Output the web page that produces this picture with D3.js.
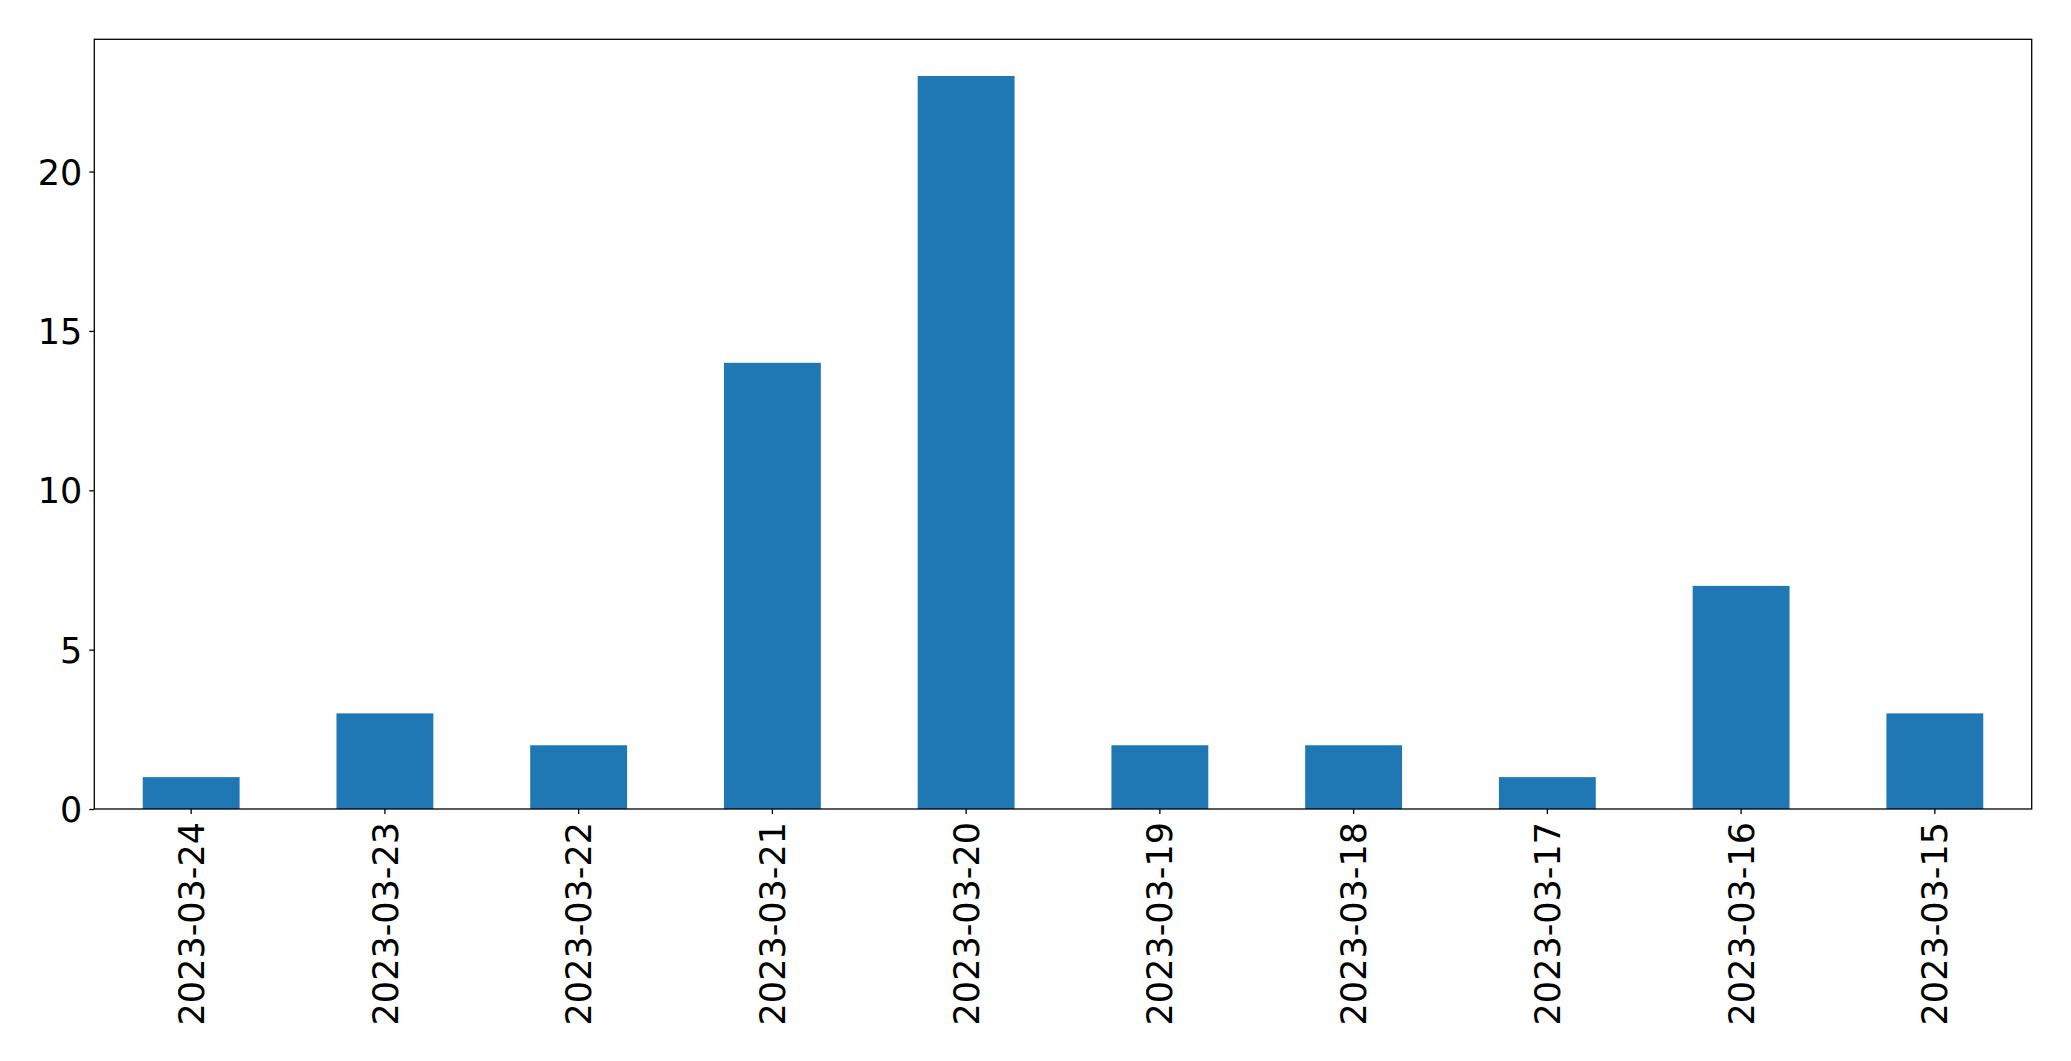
<!DOCTYPE html>
<html><head><meta charset="utf-8">
<script src="https://cdn.jsdelivr.net/npm/d3@7"></script>
<style>body{margin:0;background:#fff}svg{display:block}text{font-family:"DejaVu Sans",sans-serif;fill:#000}</style>
</head><body><svg id="c" width="2071" height="1061"></svg>
<script>
const categories = ["2023-03-24","2023-03-23","2023-03-22","2023-03-21","2023-03-20","2023-03-19","2023-03-18","2023-03-17","2023-03-16","2023-03-15"];
const values = [1,3,2,14,23,2,2,1,7,3];
const yTicks = [0,5,10,15,20];

const svg = d3.select("#c");
const L = 94.3, R = 2031.7, T = 39.3, B = 809;
const x = d3.scaleBand().domain(categories).range([L, R]).paddingInner(0.5).paddingOuter(0.25);
const y = d3.scaleLinear().domain([0, d3.max(values) * 1.05]).range([B, T]);

svg.append("g").selectAll("rect").data(values).join("rect")
  .attr("x", (d, i) => x(categories[i]))
  .attr("width", x.bandwidth())
  .attr("y", d => y(d))
  .attr("height", d => B - y(d))
  .attr("fill", "#1f77b4");

svg.append("rect").attr("x", L).attr("y", T).attr("width", R - L).attr("height", B - T)
  .attr("fill", "none").attr("stroke", "#000").attr("stroke-width", 1.3);

const ya = svg.append("g").attr("transform", `translate(${L},0)`)
  .call(d3.axisLeft(y).tickValues(yTicks).tickSize(5).tickPadding(7).tickFormat(d3.format("d")));
ya.select(".domain").remove();
ya.selectAll("line").attr("stroke", "#000").attr("stroke-width", 1.3);
ya.selectAll("text").attr("font-size", 35).style("font-family", "DejaVu Sans").attr("fill", "#000").attr("dy", "0.36em");

const xa = svg.append("g").attr("transform", `translate(0,${B})`)
  .call(d3.axisBottom(x).tickSize(5).tickPadding(0));
xa.select(".domain").remove();
xa.selectAll("line").attr("stroke", "#000").attr("stroke-width", 1.3);
xa.selectAll("text").attr("font-size", 35).style("font-family", "DejaVu Sans").attr("fill", "#000")
  .attr("text-anchor", "end").attr("transform", "translate(0,13) rotate(-90)")
  .attr("x", 0).attr("y", 0).attr("dy", "0.36em");
</script></body></html>
